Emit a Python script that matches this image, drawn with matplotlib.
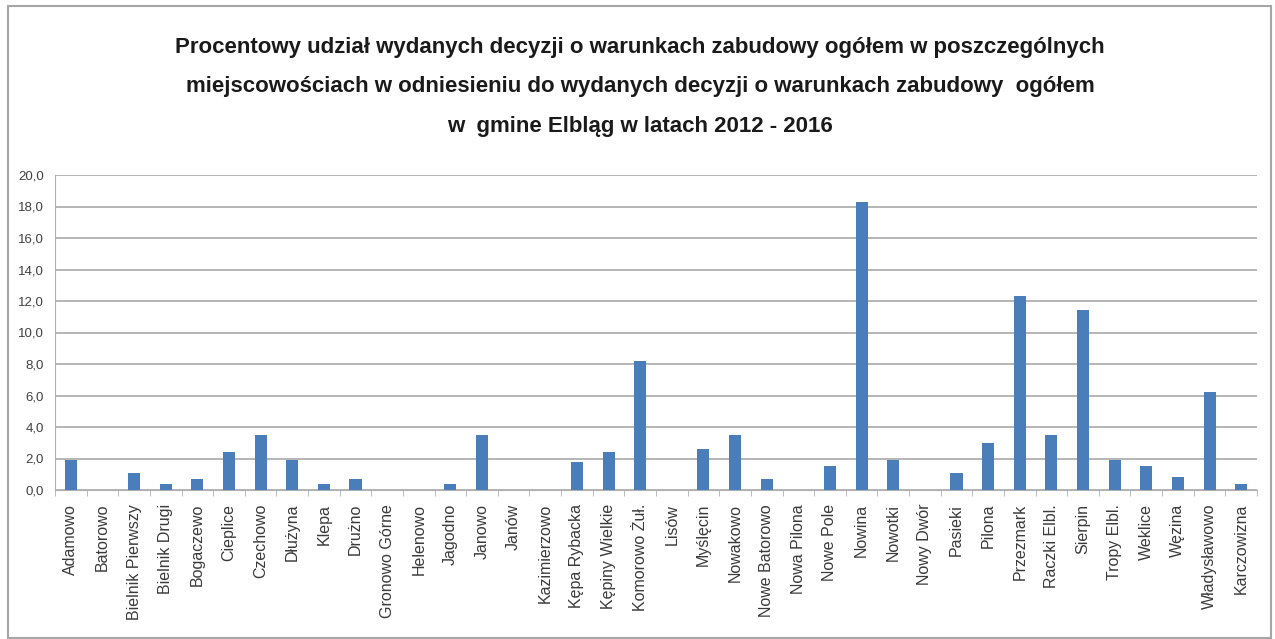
import matplotlib
matplotlib.use("Agg")
import matplotlib.pyplot as plt
import matplotlib.patches as mpatches
from matplotlib.ticker import FuncFormatter, FixedLocator
import numpy as np

plt.rcParams['font.family'] = ['Liberation Sans', 'DejaVu Sans']

# data
places = [
    "Adamowo", "Batorowo", "Bielnik Pierwszy", "Bielnik Drugi", "Bogaczewo",
    "Cieplice", "Czechowo", "Dłużyna", "Klepa", "Drużno", "Gronowo Górne",
    "Helenowo", "Jagodno", "Janowo", "Janów", "Kazimierzowo", "Kępa Rybacka",
    "Kępiny Wielkie", "Komorowo Żuł.", "Lisów", "Myślęcin", "Nowakowo",
    "Nowe Batorowo", "Nowa Pilona", "Nowe Pole", "Nowina", "Nowotki",
    "Nowy Dwór", "Pasieki", "Pilona", "Przezmark", "Raczki Elbl.", "Sierpin",
    "Tropy Elbl.", "Weklice", "Węzina", "Władysławowo", "Karczowizna",
]
share_pct = [
    1.9, 0.0, 1.1, 0.4, 0.7,
    2.4, 3.5, 1.9, 0.4, 0.7, 0.0,
    0.0, 0.4, 3.5, 0.0, 0.0, 1.8,
    2.4, 8.2, 0.0, 2.6, 3.5,
    0.7, 0.0, 1.5, 18.3, 1.9,
    0.0, 1.1, 3.0, 12.3, 3.5, 11.4,
    1.9, 1.5, 0.8, 6.2, 0.4,
]
title_lines = [
    "Procentowy udział wydanych decyzji o warunkach zabudowy ogółem w poszczególnych",
    "miejscowościach w odniesieniu do wydanych decyzji o warunkach zabudowy  ogółem",
    "w  gmine Elbląg w latach 2012 - 2016",
]

W, H = 1275, 639
fig = plt.figure(figsize=(W / 100, H / 100), dpi=100)
fig.patch.set_facecolor("white")

# outer chart frame
fig.patches.append(mpatches.Rectangle((8 / W, 1 / H), 1263 / W, 632 / H, transform=fig.transFigure,
                                      fill=False, edgecolor="#a6a6a6", linewidth=1.5))

ax = fig.add_axes([55 / W, 1 - 490 / H, (1257 - 55) / W, (490 - 175) / H])
x = np.arange(len(places))
ax.bar(x, share_pct, width=0.38, color="#4a7ebb", zorder=3)

ax.set_xlim(-0.5, len(places) - 0.5)
ax.set_ylim(0, 20)
ax.set_yticks(np.arange(0, 21, 2))
ax.yaxis.set_major_formatter(FuncFormatter(lambda v, p: f"{v:.1f}".replace(".", ",")))
ax.grid(axis="y", color="#b0b0b0", linewidth=1.3, zorder=0)
ax.set_xticks(x)
ax.set_xticklabels(places, rotation=90, fontsize=11.5, color="#3a3a3a")
ax.xaxis.set_minor_locator(FixedLocator(np.arange(-0.5, len(places), 1.0)))
ax.tick_params(axis="y", length=0, labelsize=9.5, labelcolor="#404040", pad=8)
ax.tick_params(axis="x", which="major", length=0, pad=10)
ax.tick_params(axis="x", which="minor", length=4, color="#b0b0b0")
for s in ["top", "right"]:
    ax.spines[s].set_visible(False)
ax.spines["left"].set_color("#b0b0b0")
ax.spines["bottom"].set_color("#b0b0b0")

# title, one line at a time (baselines)
for line, base in zip(title_lines, [53, 92, 132]):
    fig.text(0.502, 1 - base / H, line, ha="center", va="baseline", fontsize=16,
             fontweight="bold", color="#1a1a1a")

fig.savefig("out.png", dpi=100)
